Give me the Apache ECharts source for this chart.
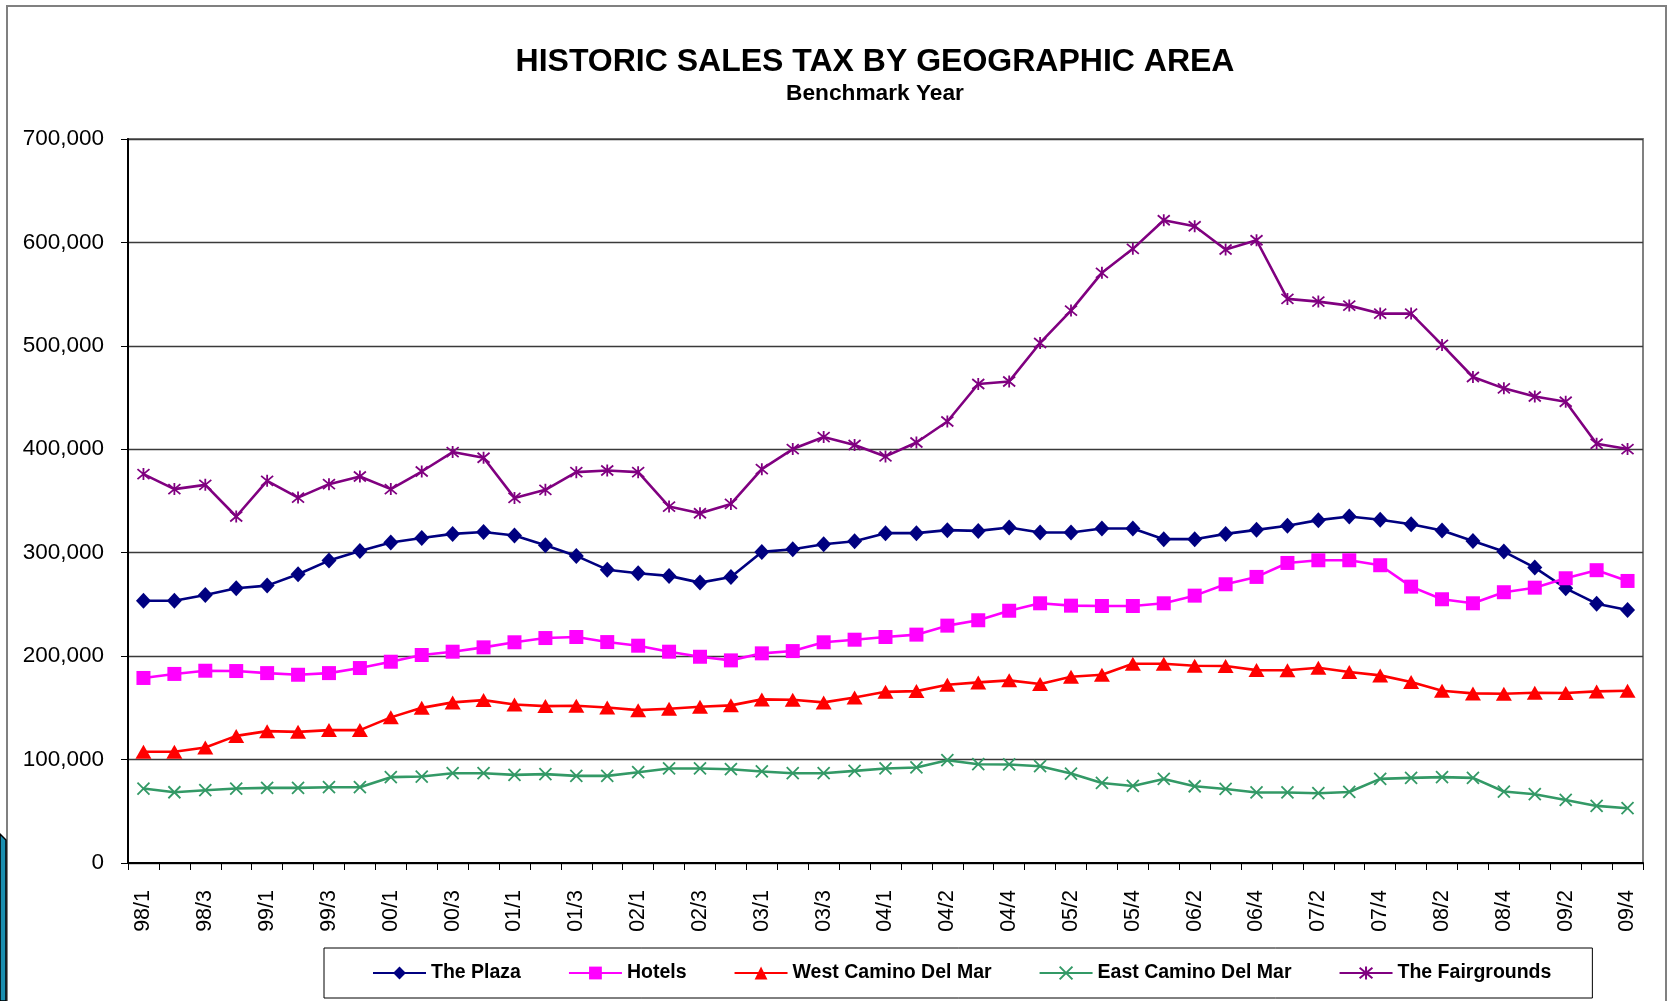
<!DOCTYPE html>
<html>
<head>
<meta charset="utf-8">
<script src="https://cdn.jsdelivr.net/npm/echarts@6/dist/echarts.min.js"></script>
<style>
html,body{margin:0;padding:0;background:#fff;}
#chart{width:1669px;height:1001px;}
</style>
</head>
<body>
<div id="chart"></div>
<script>
// ---- data ----
const quarters = [
  "98/1","98/2","98/3","98/4","99/1","99/2","99/3","99/4",
  "00/1","00/2","00/3","00/4","01/1","01/2","01/3","01/4",
  "02/1","02/2","02/3","02/4","03/1","03/2","03/3","03/4",
  "04/1","04/1","04/2","04/3","04/4","05/1","05/2","05/3","05/4",
  "06/1","06/2","06/3","06/4","07/1","07/2","07/3","07/4",
  "08/1","08/2","08/3","08/4","09/1","09/2","09/3","09/4"
];
const seriesNames = ["The Plaza","Hotels","West Camino Del Mar","East Camino Del Mar","The Fairgrounds"];
const thePlaza = [253600,253600,259200,265600,268200,279200,292400,301700,309800,314300,318200,320100,316600,307300,296900,283600,280100,277600,271100,276600,300800,303400,308200,311100,318900,318900,321800,321100,324300,319500,319500,323400,323400,313100,313100,318200,322100,326000,331500,335000,331800,327600,321400,311400,301100,285600,265600,250700,244600];
const hotels = [178900,182800,185900,185600,183600,182000,183600,188500,194600,201100,204300,208500,213400,217500,218500,213600,210100,204300,199400,195900,202700,204900,213400,215900,218500,220800,229500,234700,243900,251100,248800,248500,248500,251100,258500,269500,276600,290100,292700,292700,287900,267200,255000,251100,261800,266200,275300,283100,272700];
const westCamino = [107500,107500,111700,122900,127500,126800,128500,128500,140800,150000,155300,157500,153300,151700,152000,150400,147800,149100,151000,152400,158200,157800,155300,160100,165500,166200,172300,174600,176600,173000,180100,182000,192600,192600,190700,190400,186500,186300,188800,184600,181400,174900,166500,164000,163600,164600,164300,165900,166500];
const eastCamino = [72000,68400,70400,72000,72600,72600,73300,73300,83000,83600,86800,86800,85200,85900,84200,84200,87800,91400,91400,90700,88500,86800,86800,89100,91400,92400,99400,95500,95300,93600,86500,77400,74500,81300,74200,71600,68200,68200,67500,68700,81300,82300,83000,82300,69100,66500,61000,55200,53000];
const fairgrounds = [376000,361500,365600,335000,369500,353300,366300,373700,361500,378500,397300,391800,353000,360800,377900,379500,377900,344600,338200,347200,380800,400200,411800,404100,393100,406600,426900,463100,465600,502800,534100,570600,593800,621500,615700,593100,602100,545400,542800,538900,531200,531200,500900,469900,458900,451100,446000,405300,400200];
const yTicks = {min: 0, max: 700000, interval: 100000};

const FONT = "'Liberation Sans', Arial, sans-serif";
const chart = echarts.init(document.getElementById('chart'), null, {renderer: 'canvas'});

const crossPath = 'path://M0,0L10,10M0,10L10,0';
const starPath = 'path://M0,0L10,10M0,10L10,0M5,-1L5,11';

function mkSeries(name, data, color, symbol, size, stroke) {
  const s = {
    name: name, type: 'line', data: data,
    symbol: symbol, symbolSize: size,
    lineStyle: {color: color, width: 2.6},
    itemStyle: {color: color},
    emphasis: {disabled: true},
    z: 2
  };
  if (stroke) {
    s.itemStyle = {color: color, borderColor: color, borderWidth: 1.8};
  }
  return s;
}

const option = {
  animation: false,
  backgroundColor: '#ffffff',
  title: [
    {text: 'HISTORIC SALES TAX BY GEOGRAPHIC AREA', left: 870, top: 41, textAlign: 'center',
     textStyle: {fontFamily: FONT, fontSize: 32, fontWeight: 'bold', color: '#000'}},
    {text: 'Benchmark Year', left: 870, top: 77, textAlign: 'center',
     textStyle: {fontFamily: FONT, fontSize: 22.7, fontWeight: 'bold', color: '#000'}}
  ],
  grid: {left: 128, right: 26, top: 139, bottom: 138, show: true, borderColor: '#808080', borderWidth: 2, backgroundColor: 'transparent'},
  legend: {
    data: seriesNames,
    left: 324, top: 948,
    padding: [15, 41, 15, 48],
    borderColor: '#000', borderWidth: 1,
    itemWidth: 53, itemHeight: 16, itemGap: 47,
    textStyle: {fontFamily: FONT, fontSize: 19.5, fontWeight: 'bold', color: '#000'}
  },
  xAxis: {
    type: 'category', data: quarters, boundaryGap: true,
    axisLine: {lineStyle: {color: '#000', width: 2}},
    axisTick: {show: true, interval: 0, length: 7, lineStyle: {color: '#000', width: 1}},
    axisLabel: {interval: 1, rotate: 90, margin: 27, fontFamily: FONT, fontSize: 21.5, color: '#000'},
    splitLine: {show: false}
  },
  yAxis: {
    type: 'value', min: yTicks.min, max: yTicks.max, interval: yTicks.interval,
    axisLine: {show: true, lineStyle: {color: '#000', width: 2}},
    axisTick: {show: true, length: 7, lineStyle: {color: '#000', width: 1}},
    axisLabel: {margin: 24, fontFamily: FONT, fontSize: 22.5, color: '#000',
      formatter: v => v.toLocaleString('en-US')},
    splitLine: {show: true, lineStyle: {color: '#3a3a3a', width: 1.3}}
  },
  series: [
    mkSeries(seriesNames[0], thePlaza, '#000080', 'diamond', [15, 16], false),
    mkSeries(seriesNames[1], hotels, '#FF00FF', 'rect', 14, false),
    mkSeries(seriesNames[2], westCamino, '#FF0000', 'triangle', [16, 14], false),
    mkSeries(seriesNames[3], eastCamino, '#339966', crossPath, 12, true),
    mkSeries(seriesNames[4], fairgrounds, '#800080', starPath, 12, true)
  ],
  graphic: [
    {type: 'rect', shape: {x: 7, y: 6, width: 1659, height: 1020}, style: {fill: 'none', stroke: '#808080', lineWidth: 2}, z: 10},
    {type: 'polygon', shape: {points: [[0, 834], [6, 840], [6, 1001], [0, 1001]]}, style: {fill: '#1b8fb0', stroke: '#000', lineWidth: 1.5}, z: 11}
  ]
};
chart.setOption(option);
</script>
</body>
</html>
